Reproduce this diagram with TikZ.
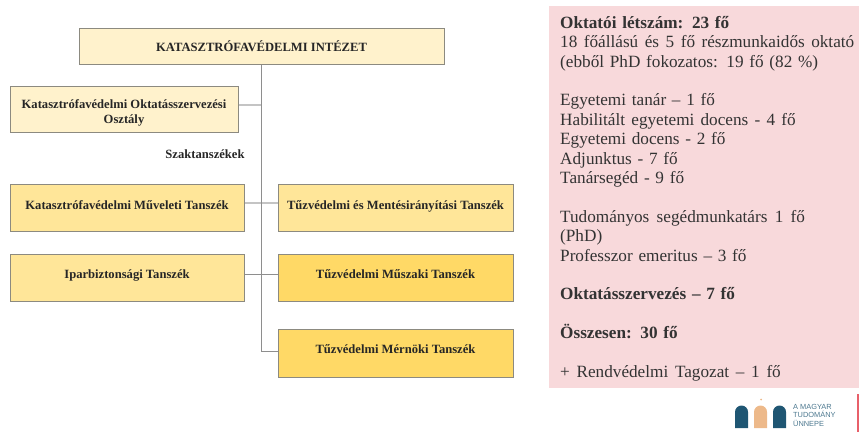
\documentclass[tikz,border=0pt]{standalone}
\usepackage{fontspec}
\setmainfont{Liberation Serif}
\setsansfont{Liberation Sans}
\definecolor{paleY}{HTML}{FFF2CC}
\definecolor{midY}{HTML}{FFE699}
\definecolor{darkY}{HTML}{FFD966}
\definecolor{edgeG}{HTML}{8C8A80}
\definecolor{lineG}{HTML}{8E8E8E}
\definecolor{lineL}{HTML}{C4C4C4}
\definecolor{panelP}{HTML}{F8D9DB}
\definecolor{logoB}{HTML}{1F5673}
\definecolor{logoT}{HTML}{EDB98A}
\definecolor{logoR}{HTML}{E8606A}
\tikzset{
  orgbox/.style={draw=edgeG,line width=1pt,inner sep=0pt,align=center,font=\fontsize{12.6}{15}\selectfont\bfseries,text=black!85},
  wide/.style={orgbox,minimum width=234pt,minimum height=47pt},
  spine/.style={draw=lineG,line width=1pt},
  softline/.style={draw=lineL,line width=2pt},
  archB/.style={fill=logoB,draw=none},
  archT/.style={fill=logoT,draw=none},
}
\begin{document}
\begin{tikzpicture}[x=1pt,y=-1pt]
\useasboundingbox (0,0) rectangle (859,432);
\fill[panelP] (549,6) rectangle (859,388);
\node[orgbox,fill=paleY,minimum width=365pt,minimum height=36pt] (top) at (261.5,46) {KATASZTRÓFAVÉDELMI INTÉZET};
\node[orgbox,fill=paleY,minimum width=228pt,minimum height=46pt] (osz) at (124,109) {\rule{0pt}{16pt}Katasztrófavédelmi Oktatásszervezési\\Osztály};
\node[wide,fill=midY] (muv) at (127,207.5) {\raisebox{5.5pt}{Katasztrófavédelmi Műveleti Tanszék}};
\node[wide,fill=midY] (ipar) at (127,277.5) {\raisebox{6.5pt}{Iparbiztonsági Tanszék}};
\node[wide,fill=midY,minimum width=235pt] (tuz) at (395.5,207.5) {\raisebox{5.5pt}{Tűzvédelmi és Mentésirányítási Tanszék}};
\node[wide,fill=darkY,minimum width=235pt] (musz) at (395.5,277.5) {\raisebox{6.5pt}{Tűzvédelmi Műszaki Tanszék}};
\node[wide,fill=darkY,minimum width=235pt,minimum height=48pt] (mern) at (395.5,353) {\raisebox{8.5pt}{Tűzvédelmi Mérnöki Tanszék}};
\node[font=\fontsize{12.6}{15}\selectfont\bfseries,text=black!85,inner sep=0pt] (szak) at (205,154.5) {Szaktanszékek};
\coordinate (ozc) at ([yshift=4pt]osz.east);
\draw[softline] (ozc) -- (top.south |- ozc);
\draw[softline] ([yshift=4.5pt]muv.east) -- ([yshift=4.5pt]tuz.west);
\draw[spine] ([yshift=3pt]ipar.east) -- ([yshift=3pt]musz.west);
\draw[spine] (top.south) |- ([yshift=2pt]mern.west);
\node[anchor=north west,inner sep=0pt,text width=296pt,align=left,text=black!80,
      font=\fontsize{17.2}{19.4}\selectfont] (panel) at (560,16) {%
\textbf{Oktatói létszám: 23 fő}\\
{\spaceskip=6.5pt 18 főállású és 5 fő részmunkaidős oktató}\\
(ebből PhD fokozatos: 19 fő (82 \%)\\
\mbox{}\\
Egyetemi tanár – 1 fő\\
{\spaceskip=6.2pt Habilitált egyetemi docens - 4 fő}\\
Egyetemi docens - 2 fő\\
Adjunktus - 7 fő\\
Tanársegéd - 9 fő\\
\mbox{}\\
{\spaceskip=7.3pt Tudományos segédmunkatárs 1 fő}\\
(PhD)\\
Professzor emeritus – 3 fő\\
\mbox{}\\
\textbf{Oktatásszervezés – 7 fő}\\
\mbox{}\\
\textbf{Összesen: 30 fő}\\
\mbox{}\\
{\spaceskip=6.7pt + Rendvédelmi Tagozat – 1 fő}};
\path[archB] (735,428) -- (735,412) arc[start angle=180,end angle=0,radius=6.5pt] -- (748,428) -- cycle;
\path[archT] (754,428) -- (754,412) arc[start angle=180,end angle=0,radius=6.5pt] -- (767,428) -- cycle;
\path[archB] (773,428) -- (773,412) arc[start angle=180,end angle=0,radius=6.5pt] -- (786,428) -- cycle;
\fill[logoT] (761,399.5) circle (1pt);
\node[anchor=north west,inner sep=0pt,align=left,text=logoB!80,font=\sffamily\fontsize{7.4}{8.5}\selectfont] (logo) at (793,404) {A MAGYAR\\TUDOMÁNY\\ÜNNEPE};
\draw[logoR,line width=1.2pt] (858,394) -- (858,432);
\end{tikzpicture}
\end{document}
